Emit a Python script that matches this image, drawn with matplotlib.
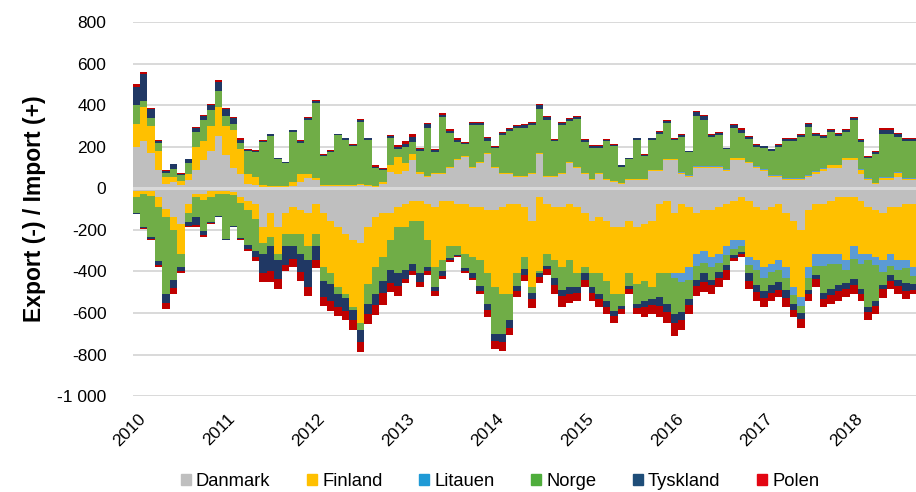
import numpy as np
import pandas as pd
import matplotlib
matplotlib.use("Agg")
import matplotlib.pyplot as plt
import matplotlib.dates as mdates
from matplotlib.ticker import FuncFormatter, MultipleLocator
from matplotlib.transforms import ScaledTranslation

plt.rcParams['font.family'] = ['Liberation Sans', 'DejaVu Sans']

# monthly averages, Jan 2010 - Sep 2018 (MW)
months = pd.date_range('2010-01-01', '2018-09-01', freq='MS')
countries = ['Danmark', 'Finland', 'Litauen', 'Norge', 'Tyskland', 'Polen']
colors = ['#bfbfbf', '#ffc000', '#5b9bd5', '#70ad47', '#203864', '#c00000']
legend_colors = ['#bfbfbf', '#ffc000', '#1f9ad6', '#4fad3c', '#1f4e79', '#e30613']

# import (+)
danmark_imp = [200, 230, 170, 90, 20, 30, 15, 40, 90, 135, 180, 250,
               160, 100, 70, 20, 15, 5, 5, 5, 5, 10, 30, 50,
               40, 10, 10, 10, 10, 10, 15, 10, 5, 20, 80, 70,
               85, 135, 70, 55, 70, 70, 100, 135, 150, 100, 120, 165,
               100, 70, 70, 55, 55, 70, 165, 55, 55, 70, 120, 100,
               70, 40, 70, 40, 30, 20, 40, 40, 40, 85, 85, 135,
               135, 70, 55, 100, 100, 100, 100, 85, 135, 135, 120, 100,
               85, 55, 55, 40, 40, 40, 55, 70, 85, 100, 100, 135,
               135, 70, 40, 20, 40, 40, 55, 40, 40]
finland_imp = [110, 160, 130, 90, 35, 25, 20, 30, 110, 95, 120, 140,
               140, 180, 120, 50, 40, 10, 5, 5, 5, 20, 40, 20,
               10, 5, 5, 5, 5, 5, 5, 5, 5, 10, 30, 80,
               35, 30, 10, 5, 5, 5, 5, 5, 5, 5, 5, 5,
               5, 5, 5, 5, 5, 5, 5, 5, 5, 5, 5, 5,
               5, 5, 5, 5, 5, 5, 5, 5, 5, 5, 5, 5,
               5, 5, 5, 5, 5, 5, 5, 5, 10, 10, 5, 5,
               5, 5, 5, 5, 5, 5, 5, 10, 10, 10, 10, 10,
               10, 20, 5, 5, 10, 10, 20, 5, 5]
litauen_imp = [0] * 72 + [3] * 33
norge_imp = [90, 30, 40, 40, 20, 40, 30, 50, 70, 100, 75, 80,
             50, 30, 30, 110, 120, 210, 240, 130, 110, 240, 150, 260,
             360, 140, 160, 240, 220, 190, 300, 220, 90, 60, 130, 40,
             80, 60, 100, 230, 100, 270, 160, 85, 60, 200, 180, 60,
             90, 180, 200, 230, 230, 230, 210, 270, 170, 230, 200, 230,
             150, 150, 120, 185, 170, 80, 95, 190, 110, 145, 170, 175,
             90, 170, 110, 240, 220, 140, 150, 95, 140, 120, 110, 90,
             100, 115, 135, 180, 180, 200, 230, 170, 145, 160, 140, 125,
             180, 130, 100, 135, 210, 210, 170, 180, 180]
tyskland_imp = [90, 130, 40, 10, 10, 20, 5, 20, 20, 20, 25, 40,
                30, 30, 15, 5, 5, 5, 10, 5, 5, 10, 10, 10,
                10, 5, 5, 5, 5, 5, 10, 5, 5, 5, 10, 10,
                15, 20, 10, 20, 10, 10, 10, 10, 5, 10, 10, 10,
                5, 10, 10, 10, 15, 10, 20, 15, 5, 10, 10, 10,
                10, 10, 10, 5, 5, 5, 5, 5, 5, 5, 10, 10,
                5, 10, 5, 20, 20, 10, 10, 5, 15, 15, 10, 10,
                10, 10, 10, 10, 10, 10, 15, 10, 10, 10, 10, 10,
                10, 10, 5, 10, 20, 20, 15, 10, 10]
polen_imp = [10, 10, 5, 3, 3, 3, 3, 3, 5, 5, 5, 10,
             5, 5, 5, 3, 3, 3, 3, 3, 3, 3, 3, 3,
             3, 3, 3, 3, 3, 3, 5, 3, 5, 5, 5, 10,
             15, 15, 5, 5, 5, 10, 10, 5, 3, 3, 5, 5,
             3, 5, 5, 5, 5, 5, 5, 5, 3, 3, 3, 3,
             3, 3, 3, 3, 3, 3, 3, 3, 3, 3, 5, 5,
             3, 3, 3, 5, 5, 3, 3, 3, 5, 5, 5, 3,
             3, 3, 3, 3, 3, 3, 5, 5, 5, 3, 3, 3,
             5, 3, 3, 5, 5, 5, 5, 3, 3]

# export (-), stored as magnitudes
danmark_exp = [15, 15, 15, 40, 100, 140, 170, 75, 25, 25, 15, 15,
               15, 20, 40, 60, 75, 185, 120, 185, 120, 90, 105, 120,
               75, 120, 155, 185, 220, 250, 265, 185, 140, 120, 120, 90,
               75, 60, 60, 75, 90, 60, 60, 75, 75, 90, 90, 105,
               105, 90, 75, 75, 90, 155, 40, 75, 90, 90, 75, 90,
               120, 155, 140, 155, 185, 185, 155, 185, 170, 155, 75, 60,
               120, 75, 90, 120, 105, 105, 90, 75, 60, 40, 60, 90,
               105, 90, 75, 120, 155, 200, 105, 75, 75, 60, 40, 40,
               40, 60, 90, 105, 120, 90, 90, 75, 75]
finland_exp = [25, 10, 20, 50, 40, 60, 145, 45, 15, 30, 25, 10,
               10, 10, 30, 45, 75, 80, 115, 130, 100, 130, 115, 160,
               145, 260, 255, 290, 290, 320, 385, 275, 240, 210, 130, 95,
               110, 95, 95, 175, 290, 285, 220, 205, 240, 240, 255, 305,
               370, 420, 435, 335, 240, 320, 360, 240, 255, 290, 270, 320,
               260, 255, 270, 290, 325, 325, 255, 275, 275, 320, 335, 350,
               290, 335, 290, 195, 195, 225, 225, 205, 190, 210, 270, 255,
               275, 275, 270, 260, 320, 325, 275, 240, 240, 255, 275, 305,
               240, 255, 225, 225, 225, 225, 255, 270, 305]
litauen_exp = [0] * 72 + [20, 40, 60, 60, 60, 50, 45, 40, 40, 30, 40, 50,
                          50, 40, 50, 50, 40, 40, 50, 60, 60, 50, 50, 50,
                          60, 50, 30, 40, 60, 60, 50, 40, 40]
norge_exp = [80, 160, 200, 260, 370, 240, 65, 40, 100, 150, 120, 110,
             220, 150, 170, 170, 150, 50, 45, 30, 60, 60, 95, 65,
             60, 65, 50, 35, 20, 15, 30, 95, 130, 115, 145, 225,
             210, 210, 255, 130, 95, 55, 55, 40, 70, 80, 125, 145,
             225, 190, 125, 60, 60, 30, 10, 60, 85, 110, 130, 65,
             30, 65, 100, 95, 80, 55, 60, 95, 95, 60, 115, 145,
             175, 145, 95, 65, 50, 60, 45, 50, 30, 25, 40, 70,
             65, 60, 55, 60, 40, 35, 60, 40, 130, 120, 100, 60,
             95, 120, 225, 170, 60, 40, 45, 70, 40]
tyskland_exp = [5, 5, 10, 20, 40, 40, 20, 20, 35, 20, 5, 5,
                5, 5, 5, 15, 30, 95, 120, 90, 90, 60, 90, 130,
                65, 80, 80, 60, 60, 50, 60, 50, 50, 60, 60, 60,
                40, 35, 40, 20, 20, 20, 10, 5, 15, 20, 25, 30,
                35, 40, 35, 25, 25, 30, 15, 15, 35, 30, 35, 30,
                30, 30, 25, 30, 25, 15, 15, 20, 30, 25, 40, 40,
                45, 40, 25, 30, 40, 25, 25, 25, 15, 10, 35, 35,
                35, 40, 40, 40, 30, 30, 20, 20, 30, 30, 30, 30,
                30, 25, 25, 25, 20, 30, 30, 40, 30]
polen_exp = [0, 5, 5, 10, 30, 30, 10, 5, 10, 10, 5, 0,
             0, 0, 5, 10, 20, 40, 50, 50, 30, 40, 40, 45,
             40, 40, 50, 45, 45, 45, 50, 50, 50, 55, 45, 50,
             20, 15, 25, 15, 25, 15, 10, 5, 10, 10, 15, 35,
             40, 45, 35, 30, 30, 40, 30, 25, 45, 50, 40, 35,
             35, 35, 35, 35, 35, 25, 25, 30, 50, 45, 55, 55,
             60, 45, 45, 50, 50, 45, 45, 45, 15, 15, 40, 40,
             40, 35, 35, 40, 35, 40, 30, 40, 35, 40, 45, 40,
             45, 30, 40, 40, 45, 40, 40, 40, 20]

imports = [danmark_imp, finland_imp, litauen_imp, norge_imp, tyskland_imp, polen_imp]
exports = [danmark_exp, finland_exp, litauen_exp, norge_exp, tyskland_exp, polen_exp]


def main():
    fig = plt.figure(figsize=(9.16, 4.92), dpi=100)
    ax = fig.add_axes([0.145, 0.195, 0.855, 0.76])

    x = mdates.date2num(months)
    width = np.array(months.days_in_month, dtype=float)

    bottom = np.zeros(len(months))
    for vals, c in zip(imports, colors):
        v = np.array(vals, dtype=float)
        ax.bar(x, v, width=width, bottom=bottom, align='edge', color=c, linewidth=0, zorder=2)
        bottom += v

    bottom = np.zeros(len(months))
    for vals, c in zip(exports, colors):
        v = -np.array(vals, dtype=float)
        ax.bar(x, v, width=width, bottom=bottom, align='edge', color=c, linewidth=0, zorder=2)
        bottom += v

    ax.axhline(0, color='#d9d9d9', linewidth=2.2, zorder=3)

    ax.set_ylim(-1000, 800)
    ax.set_xlim(mdates.date2num(pd.Timestamp('2010-01-01')),
                mdates.date2num(pd.Timestamp('2018-09-27')))
    ax.yaxis.set_major_locator(MultipleLocator(200))
    ax.yaxis.set_major_formatter(FuncFormatter(lambda v, p: f"{int(v):,}".replace(",", " ")))
    ax.grid(axis='y', color='#d9d9d9', linewidth=1.4, zorder=0)
    ax.set_axisbelow(True)

    ax.xaxis.set_major_locator(mdates.YearLocator())
    ax.xaxis.set_major_formatter(mdates.DateFormatter('%Y'))

    ax.tick_params(axis='both', length=0, labelsize=12.5, colors='black')
    ax.tick_params(axis='y', pad=19)
    ax.tick_params(axis='x', pad=11)
    shift = ScaledTranslation(5 / 100, 0, fig.dpi_scale_trans)
    for lab in ax.get_xticklabels():
        lab.set_rotation(45)
        lab.set_ha('right')
        lab.set_rotation_mode('anchor')
        lab.set_transform(lab.get_transform() + shift)
    for s in ax.spines.values():
        s.set_visible(False)

    ax.set_ylabel('Export (-) / Import (+)', fontsize=16.5, fontweight='bold', labelpad=8)

    handles = [plt.Rectangle((0, 0), 1, 1, color=c) for c in legend_colors]
    fig.legend(handles, countries, loc='center', bbox_to_anchor=(0.546, 0.022), ncol=6,
               frameon=False, fontsize=13.2, handlelength=0.55, handleheight=0.55,
               handletextpad=0.27, columnspacing=2.0, borderpad=0)

    fig.savefig('out.png', dpi=100)


if __name__ == '__main__':
    main()
